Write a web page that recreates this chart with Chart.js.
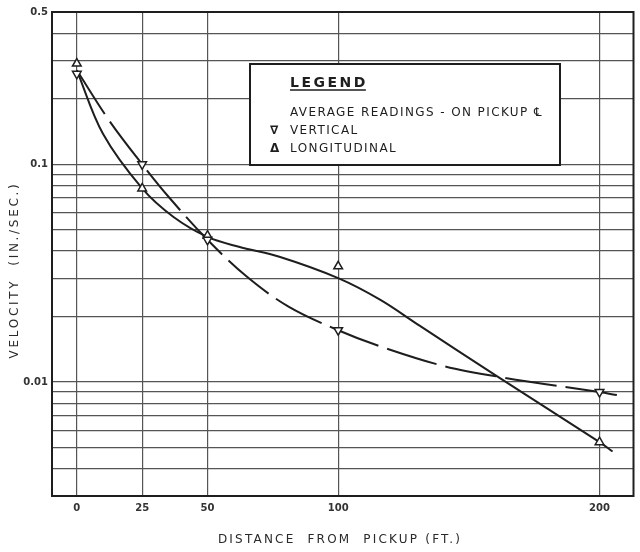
<!DOCTYPE html>
<html>
<head>
<meta charset="utf-8">
<script src="https://cdn.jsdelivr.net/npm/chart.js@4.4.1/dist/chart.umd.min.js"></script>
<style>
  html, body { margin: 0; padding: 0; background: #fff; }
  #wrap { width: 640px; height: 552px; }
</style>
</head>
<body>
<div id="wrap"><canvas id="velocidad"></canvas></div>
<script>
// ticks on the distance axis (ft)
const xTicks = [0, 25, 50, 100, 200];
// log grid on the velocity axis (in./sec), only some carry a label
const yGrid = [0.003, 0.004, 0.005, 0.006, 0.007, 0.008, 0.009,
               0.01, 0.02, 0.03, 0.04, 0.05, 0.06, 0.07, 0.08, 0.09,
               0.1, 0.2, 0.3, 0.4, 0.5];
const yLabeled = [0.01, 0.1, 0.5];

// average readings on pickup centre line
const vertDist = [0, 25, 50, 100, 200];
const vertVel = [0.26, 0.1, 0.045, 0.0173, 0.009];
const longDist = [0, 25, 50, 100, 200];
const longVel = [0.29, 0.0775, 0.047, 0.034, 0.0053];

// faired curves drawn through the readings
const vertCurveDist = [0, 12.5, 25, 35.5, 50, 65, 81, 100, 116, 141, 163, 200, 207];
const vertCurveVel = [0.27, 0.158, 0.1, 0.070, 0.045, 0.0305, 0.0222, 0.0173, 0.0146, 0.0118, 0.0105, 0.009, 0.0087];
const longCurveDist = [0, 10, 25, 37, 50, 62, 77.5, 100, 116, 131, 161, 200, 205];
const longCurveVel = [0.27, 0.138, 0.0775, 0.0573, 0.0464, 0.0418, 0.0376, 0.030, 0.0239, 0.0182, 0.0106, 0.0053, 0.0048];

function puntos(xs, ys) {
  return xs.map((x, i) => ({x: x, y: ys[i]}));
}

const tinta = '#1e1e1e';
const fuente = '"DejaVu Sans", sans-serif';

// legend box, frame and axis titles (spaced lettering)
const marco = {
  id: 'marco',
  beforeDatasetsDraw(chart) {
    const {ctx, chartArea: a} = chart;
    const bx = a.left + 198, by = a.top + 52, bw = 310, bh = 101;
    ctx.save();
    ctx.fillStyle = '#fff';
    ctx.fillRect(bx, by, bw, bh);
    ctx.strokeStyle = tinta;
    ctx.lineWidth = 2;
    ctx.strokeRect(bx, by, bw, bh);

    ctx.fillStyle = tinta;
    ctx.textBaseline = 'alphabetic';
    ctx.textAlign = 'left';
    ctx.font = '600 14px ' + fuente;
    ctx.letterSpacing = '2.5px';
    ctx.fillText('LEGEND', bx + 40, by + 23);
    const w = ctx.measureText('LEGEND').width;
    ctx.lineWidth = 1.5;
    ctx.beginPath();
    ctx.moveTo(bx + 40, by + 26);
    ctx.lineTo(bx + 38 + w, by + 26);
    ctx.stroke();

    ctx.font = '12px ' + fuente;
    ctx.letterSpacing = '1.4px';
    ctx.fillText('AVERAGE READINGS - ON PICKUP \u2104', bx + 40, by + 52);
    ctx.fillText('VERTICAL', bx + 40, by + 70);
    ctx.fillText('LONGITUDINAL', bx + 40, by + 88);
    ctx.font = 'bold 12px ' + fuente;
    ctx.letterSpacing = '0px';
    ctx.fillText('\u2207', bx + 20, by + 70);
    ctx.fillText('\u0394', bx + 20, by + 88);
    ctx.restore();
  },
  afterDraw(chart) {
    const {ctx, chartArea: a} = chart;
    ctx.save();
    ctx.strokeStyle = tinta;
    ctx.lineWidth = 2;
    ctx.strokeRect(a.left, a.top, a.right - a.left, a.bottom - a.top);

    ctx.fillStyle = '#2a2a2a';
    ctx.font = '12px ' + fuente;
    ctx.letterSpacing = '2.2px';
    ctx.textAlign = 'center';
    ctx.textBaseline = 'middle';
    ctx.fillText('DISTANCE  FROM  PICKUP (FT.)', 340, 540);

    ctx.letterSpacing = '2.7px';
    ctx.translate(15, 270);
    ctx.rotate(-Math.PI / 2);
    ctx.fillText('VELOCITY  (IN./SEC.)', 0, 0);
    ctx.restore();
  }
};

const ctx = document.getElementById('velocidad').getContext('2d');

new Chart(ctx, {
  type: 'scatter',
  data: {
    datasets: [
      {
        label: 'Vertical',
        data: puntos(vertDist, vertVel),
        pointStyle: 'triangle',
        rotation: 180,
        pointRadius: 5,
        pointBorderWidth: 1.5,
        pointBorderColor: tinta,
        pointBackgroundColor: '#fff',
        showLine: false
      },
      {
        label: 'Longitudinal',
        data: puntos(longDist, longVel),
        pointStyle: 'triangle',
        pointRadius: 5,
        pointBorderWidth: 1.5,
        pointBorderColor: tinta,
        pointBackgroundColor: '#fff',
        showLine: false
      },
      {
        label: 'Vertical curve',
        data: puntos(vertCurveDist, vertCurveVel),
        showLine: true,
        pointRadius: 0,
        borderColor: tinta,
        borderWidth: 2,
        borderDash: [52, 9],
        tension: 0.35
      },
      {
        label: 'Longitudinal curve',
        data: puntos(longCurveDist, longCurveVel),
        showLine: true,
        pointRadius: 0,
        borderColor: tinta,
        borderWidth: 2,
        tension: 0.35
      }
    ]
  },
  options: {
    responsive: true,
    maintainAspectRatio: false,
    animation: false,
    layout: { padding: { top: 12, right: 4, left: 0, bottom: 0 } },
    plugins: {
      legend: { display: false },
      tooltip: { enabled: false }
    },
    scales: {
      x: {
        type: 'linear',
        min: -9.5,
        max: 213,
        afterBuildTicks: (s) => { s.ticks = xTicks.map(v => ({value: v})); },
        afterFit: (s) => { s.height = 56; },
        ticks: {
          autoSkip: false,
          maxRotation: 0,
          padding: 6,
          color: '#333',
          font: { family: fuente, size: 10, weight: 'bold' }
        },
        grid: { color: '#555', lineWidth: 1.2, drawTicks: false },
        border: { display: false }
      },
      y: {
        type: 'logarithmic',
        min: 0.003,
        max: 0.5,
        afterBuildTicks: (s) => { s.ticks = yGrid.map(v => ({value: v})); },
        afterFit: (s) => { s.width = 52; },
        ticks: {
          autoSkip: false,
          padding: 4,
          color: '#333',
          font: { family: fuente, size: 10, weight: 'bold' },
          callback: (v) => yLabeled.includes(v) ? String(v) : ''
        },
        grid: { color: '#555', lineWidth: 1.2, drawTicks: false },
        border: { display: false }
      }
    }
  },
  plugins: [marco]
});
</script>
</body>
</html>
